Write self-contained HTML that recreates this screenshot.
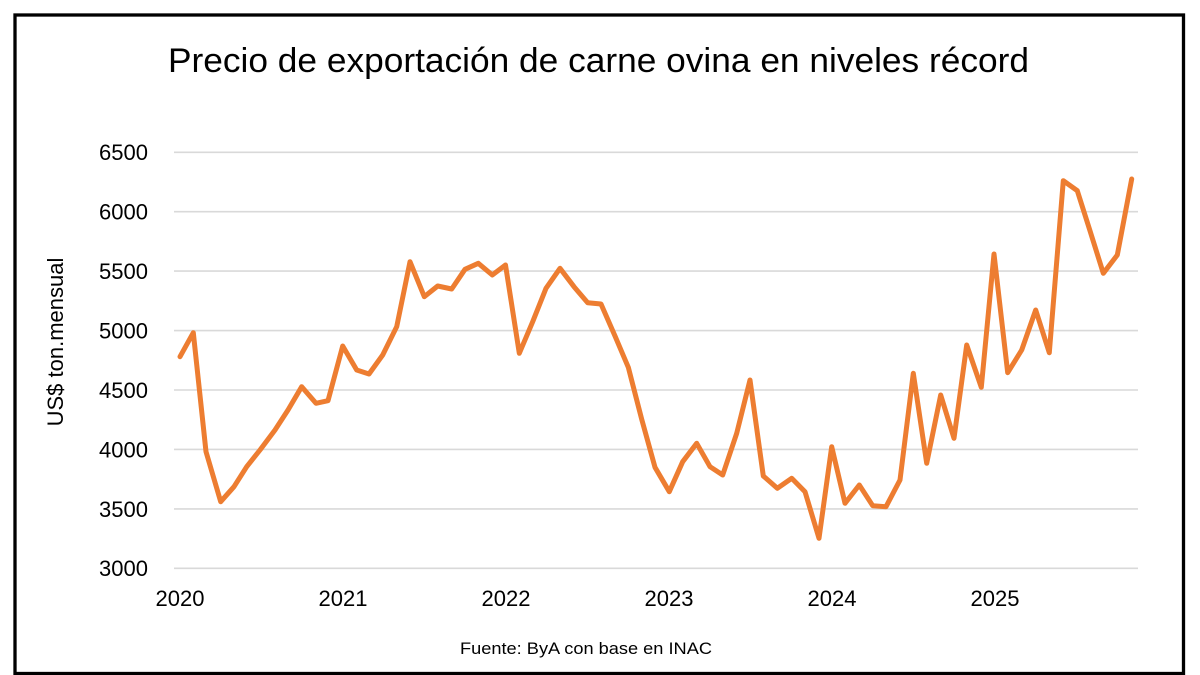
<!DOCTYPE html>
<html>
<head>
<meta charset="utf-8">
<style>
  html,body{margin:0;padding:0;background:#fff;}
  body{width:1200px;height:675px;overflow:hidden;}
  svg{display:block;}
  text{font-family:"Liberation Sans", sans-serif;fill:#000;}
</style>
</head>
<body>
<svg width="1200" height="675" viewBox="0 0 1200 675" xmlns="http://www.w3.org/2000/svg">
  <rect x="0" y="0" width="1200" height="675" fill="#fff"/>
  <!-- frame -->
  <rect x="15" y="15" width="1168.5" height="658.5" fill="none" stroke="#000" stroke-width="3.3"/>

  <!-- title -->
  <text x="168" y="72" font-size="34" textLength="861" lengthAdjust="spacingAndGlyphs">Precio de exportación de carne ovina en niveles récord</text>

  <!-- gridlines -->
  <g stroke="#d9d9d9" stroke-width="1.6">
    <line x1="174" y1="152.3" x2="1138" y2="152.3"/>
    <line x1="174" y1="211.7" x2="1138" y2="211.7"/>
    <line x1="174" y1="271.1" x2="1138" y2="271.1"/>
    <line x1="174" y1="330.6" x2="1138" y2="330.6"/>
    <line x1="174" y1="390.0" x2="1138" y2="390.0"/>
    <line x1="174" y1="449.4" x2="1138" y2="449.4"/>
    <line x1="174" y1="508.9" x2="1138" y2="508.9"/>
    <line x1="174" y1="568.3" x2="1138" y2="568.3"/>
  </g>

  <!-- y tick labels -->
  <g font-size="22" text-anchor="end">
    <text x="148" y="160">6500</text>
    <text x="148" y="219.5">6000</text>
    <text x="148" y="279">5500</text>
    <text x="148" y="338.5">5000</text>
    <text x="148" y="398">4500</text>
    <text x="148" y="457.5">4000</text>
    <text x="148" y="517">3500</text>
    <text x="148" y="576">3000</text>
  </g>

  <!-- x tick labels -->
  <g font-size="22" text-anchor="middle">
    <text x="180" y="606">2020</text>
    <text x="343" y="606">2021</text>
    <text x="506" y="606">2022</text>
    <text x="669" y="606">2023</text>
    <text x="832" y="606">2024</text>
    <text x="995" y="606">2025</text>
  </g>

  <!-- y axis title -->
  <text x="0" y="0" font-size="22" text-anchor="middle" transform="translate(63,342) rotate(-90)">US$ ton.mensual</text>

  <!-- source -->
  <text x="460" y="654" font-size="16.5" textLength="252" lengthAdjust="spacingAndGlyphs">Fuente: ByA con base en INAC</text>

  <!-- series -->
  <polyline fill="none" stroke="#ED7D31" stroke-width="5" stroke-linejoin="round" stroke-linecap="round"
    points="
180,356.7 193.3,332.7 206,451.7 220.7,501.7 234,486.7 246.7,466.7 260,450 275,430 288,410 301.7,386.7 316,403.3 328,400.7
342.7,346 356.7,370 369,374 382.7,355 396.7,326.7 410,261.7 424.3,296.7 437.7,286 451.7,289 465,269.3 478.3,263.3 492.3,275
505.5,265 519.3,353.3 532.7,321.7 546,288.3 560,268.3 574,286.7 587.7,302.7 601,304 615,336 628.3,367.3 641.7,419.3 655,467.3
669.3,491.7 682.7,461.7 696.7,443.3 710,466.7 722.7,475 736.7,433.3 750,380 763.3,476 777.3,488.3 791.7,478.3 805,491.7 819,538.3
831.7,446.7 845,503.3 859.3,485 872.7,505.7 886,506.7 900,480 913.3,373.3 926.7,463.3 940.7,395 954,438.3 966.7,345 981.3,387.3
994,254 1007.7,372.7 1021.7,350 1035.7,310 1049.3,352.7 1063.3,180.7 1077.3,190.7 1090.3,231.7 1103.3,273.3 1117.3,255 1131.7,179"/>
</svg>
</body>
</html>
